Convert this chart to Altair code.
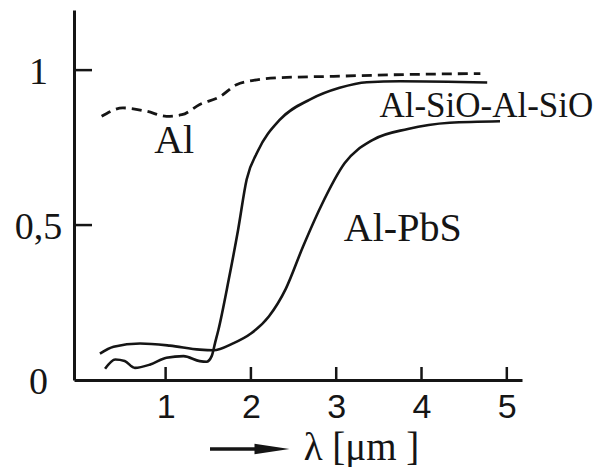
import altair as alt
import pandas as pd

# --- data ---
al_x = [0.25, 0.50, 0.78, 1.01, 1.19, 1.40, 1.64, 1.83, 2.03, 2.30, 2.97, 3.67, 4.69]
al_y = [0.851, 0.878, 0.867, 0.851, 0.856, 0.889, 0.915, 0.953, 0.967, 0.975, 0.980, 0.985, 0.989]

sio_x = [0.29, 0.41, 0.52, 0.64, 0.82, 1.01, 1.21, 1.40, 1.48, 1.54, 1.58, 1.62, 1.74, 1.85,
         1.95, 2.08, 2.34, 2.69, 3.04, 3.36, 3.75, 4.77]
sio_y = [0.036, 0.066, 0.061, 0.039, 0.050, 0.072, 0.077, 0.061, 0.059, 0.077, 0.120, 0.163,
         0.324, 0.485, 0.647, 0.738, 0.840, 0.905, 0.943, 0.961, 0.964, 0.960]

pbs_x = [0.23, 0.39, 0.70, 1.05, 1.40, 1.56, 1.79, 2.00, 2.21, 2.41, 2.61, 2.82, 3.10, 3.43,
         3.84, 4.33, 4.92]
pbs_y = [0.085, 0.107, 0.118, 0.111, 0.098, 0.096, 0.118, 0.150, 0.205, 0.295, 0.430, 0.560,
         0.700, 0.775, 0.810, 0.830, 0.835]

x_ticks = [1, 2, 3, 4, 5]
y_ticks = [0, 0.5, 1]
y_inner_ticks = [0.5, 1]

label_big = ["Al", "Al-PbS"]
label_big_x = [1.10, 3.78]
label_big_y = [0.734, 0.450]
label_long = ["Al-SiO-Al-SiO"]
label_long_x = [4.76]
label_long_y = [0.850]

x_title = "λ [μm ]"

# --- build tables ---
df_al = pd.DataFrame({"x": al_x, "y": al_y})
df_solid = pd.concat([
    pd.DataFrame({"x": sio_x, "y": sio_y, "s": "Al-SiO-Al-SiO"}),
    pd.DataFrame({"x": pbs_x, "y": pbs_y, "s": "Al-PbS"}),
])
df_xt = pd.DataFrame({"x": x_ticks})
df_yt = pd.DataFrame({"y": y_inner_ticks})
df_lb = pd.DataFrame({"t": label_big, "x": label_big_x, "y": label_big_y})
df_ll = pd.DataFrame({"t": label_long, "x": label_long_x, "y": label_long_y})
one = pd.DataFrame({"k": [0]})

INK = "#151515"
W, H = 448, 370
xs = alt.Scale(domain=[-0.074, 5.178], nice=False, zero=False)
ys = alt.Scale(domain=[0, 1.194], nice=False, zero=False)

x_axis = alt.Axis(
    values=x_ticks, ticks=False, tickSize=0, grid=False,
    domainColor=INK, domainWidth=3,
    labelFont="Liberation Sans", labelFontSize=34, labelColor=INK, labelPadding=10,
    labelFlush=False, labelOverlap=False,
    title=x_title, titleFont="Liberation Serif", titleFontSize=39,
    titleFontWeight="normal", titleColor=INK, titleX=287, titleY=79,
    titleAlign="center", titleBaseline="alphabetic",
)
y_axis = alt.Axis(
    values=y_ticks, ticks=False, tickSize=0, grid=False,
    domainColor=INK, domainWidth=3,
    labelExpr="datum.value == 0.5 ? '0,5' : (datum.value == 1 ? '1' : '0')",
    labelFont="Liberation Serif",
    labelFontSize=38, labelColor=INK, labelAlign="center", labelBaseline="middle",
    labelPadding=36, labelOffset=2, labelFlush=False, labelOverlap=False,
    title="",
)


def X():
    return alt.X("x:Q", scale=xs, axis=x_axis)


def Y():
    return alt.Y("y:Q", scale=ys, axis=y_axis)


solid = alt.Chart(df_solid).mark_line(
    interpolate="monotone", color=INK, strokeWidth=2.6
).encode(x=X(), y=Y(), detail="s:N")

dashed = alt.Chart(df_al).mark_line(
    interpolate="monotone", color=INK, strokeWidth=2.8, strokeDash=[10, 6]
).encode(x=X(), y=Y())

xt = alt.Chart(df_xt).mark_rule(color=INK, strokeWidth=2.5).encode(
    x=X(), y=alt.value(H), y2=alt.value(H - 13),
)
yt = alt.Chart(df_yt).mark_rule(color=INK, strokeWidth=2.5).encode(
    y=Y(), x=alt.value(0), x2=alt.value(18),
)

lab_big = alt.Chart(df_lb).mark_text(
    font="Liberation Serif", fontSize=40, color=INK, align="center", baseline="alphabetic"
).encode(x=X(), y=Y(), text="t:N")
lab_long = alt.Chart(df_ll).mark_text(
    font="Liberation Serif", fontSize=35, color=INK, align="center", baseline="alphabetic"
).encode(x=X(), y=Y(), text="t:N")

arrow_line = alt.Chart(one).mark_rule(color=INK, strokeWidth=3.5).encode(
    x=alt.value(136), x2=alt.value(195), y=alt.value(439)
)
arrow_head = alt.Chart(one).mark_point(
    shape="M -1 -0.3 L 1 0 L -1 0.3 Z", filled=True, size=1225, color=INK, opacity=1
).encode(x=alt.value(198), y=alt.value(439))

chart = alt.layer(solid, dashed, xt, yt, lab_big, lab_long, arrow_line, arrow_head).properties(
    width=W, height=H,
    autosize=alt.AutoSizeParams(type="none"),
    padding={"left": 66, "top": 2, "right": 75, "bottom": 88},
    background="white",
).configure_view(stroke=None)

chart.save("out.html", embed_options={"renderer": "svg", "actions": False})
